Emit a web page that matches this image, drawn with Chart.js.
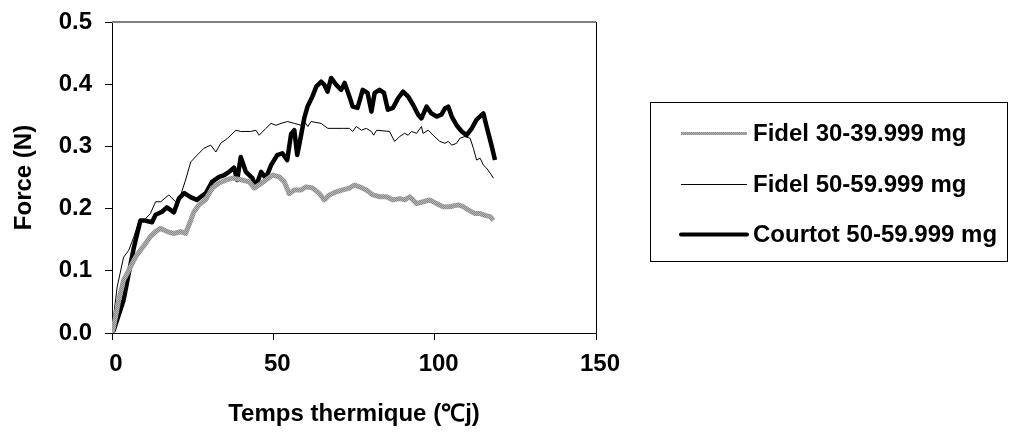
<!DOCTYPE html>
<html>
<head>
<meta charset="utf-8">
<script src="https://cdn.jsdelivr.net/npm/chart.js@4.4.1/dist/chart.umd.min.js"></script>
<style>
  body { margin: 0; background: #fff; }
  canvas { display: block; }
</style>
</head>
<body>
<canvas id="forceChart" width="1026" height="434"></canvas>
<script>
// Series: [thermal time, force]
const fidel30 = [[0,0],[0.5,0.01],[2.1,0.053],[3.6,0.085],[5.7,0.106],[7.3,0.122],[8.8,0.133],[10.4,0.144],[11.9,0.155],[13.5,0.163],[15.1,0.168],[17.1,0.163],[19.2,0.16],[21.3,0.163],[22.8,0.16],[24.4,0.181],[25.4,0.195],[27,0.206],[29.1,0.215],[31.1,0.233],[33.2,0.241],[35.3,0.246],[37.3,0.249],[40.4,0.246],[42.5,0.243],[44.1,0.233],[45.6,0.238],[47.7,0.246],[49.8,0.254],[51.8,0.251],[53.4,0.243],[54.9,0.224],[56.5,0.23],[58.6,0.23],[60.2,0.235],[62.2,0.233],[64.3,0.224],[65.8,0.214],[67.4,0.222],[69.5,0.227],[71.5,0.23],[73.6,0.233],[75.2,0.238],[76.7,0.235],[78.8,0.23],[80.9,0.222],[83,0.219],[85,0.219],[87.1,0.214],[89.2,0.216],[90.7,0.214],[92.3,0.219],[94.4,0.208],[96.4,0.211],[98.5,0.214],[100.6,0.208],[102.6,0.203],[104.7,0.203],[107.3,0.206],[108.9,0.203],[110.4,0.198],[112.5,0.192],[114.1,0.192],[115.6,0.189],[117.2,0.187],[118.2,0.181]];

const fidel50 = [[0,0.005],[1.6,0.074],[3.6,0.122],[5.2,0.133],[6.8,0.155],[8.3,0.179],[9.9,0.181],[11.9,0.192],[13.5,0.211],[15.1,0.211],[17.6,0.222],[19.7,0.211],[21.3,0.222],[22.8,0.246],[24.4,0.275],[26.4,0.286],[28.5,0.297],[30.6,0.302],[32.2,0.291],[33.7,0.305],[35.8,0.313],[38.4,0.326],[39.9,0.324],[43,0.324],[44.6,0.326],[45.6,0.318],[47.7,0.329],[49.3,0.337],[50.8,0.334],[52.4,0.337],[54.4,0.34],[56.5,0.337],[58.6,0.334],[59.6,0.34],[60.7,0.332],[61.7,0.34],[64.8,0.337],[66.9,0.329],[71.5,0.329],[73.6,0.329],[74.6,0.324],[75.7,0.332],[77.3,0.326],[78.8,0.329],[80.4,0.324],[81.1,0.318],[82,0.326],[84,0.325],[86,0.324],[87.6,0.308],[89.2,0.316],[90.7,0.321],[91.8,0.318],[92.8,0.324],[94.4,0.321],[95.9,0.332],[96.4,0.321],[98,0.326],[99.5,0.318],[101.6,0.308],[103.2,0.305],[104.2,0.308],[105.3,0.302],[106.8,0.305],[107.8,0.313],[109.4,0.316],[111,0.313],[112,0.297],[113,0.278],[114.1,0.281],[115.1,0.27],[116.1,0.265],[117.2,0.257],[118.2,0.249]];

const courtot50 = [[0,0],[0.5,0.004],[3.6,0.053],[5.2,0.096],[6.8,0.138],[8.8,0.181],[9.9,0.181],[12.4,0.178],[13.5,0.19],[15.5,0.195],[17,0.202],[19.2,0.194],[20.8,0.217],[22.4,0.225],[24.5,0.218],[26.3,0.214],[27.5,0.219],[29.1,0.225],[31,0.243],[33.2,0.251],[34.8,0.254],[36.3,0.259],[37.8,0.266],[38.8,0.246],[39.9,0.283],[41.5,0.259],[43.5,0.249],[44.6,0.235],[46.2,0.259],[47.7,0.249],[49.3,0.27],[51.2,0.286],[52.8,0.289],[54.3,0.278],[55.5,0.32],[56.5,0.326],[57.4,0.286],[58.6,0.318],[59.6,0.346],[60.6,0.364],[62.1,0.38],[63.3,0.396],[64.8,0.404],[65.8,0.399],[66.8,0.388],[67.9,0.41],[69.5,0.399],[71,0.391],[72.1,0.402],[73.6,0.38],[74.6,0.364],[76.1,0.362],[77.7,0.391],[79.2,0.386],[80.4,0.356],[81.4,0.386],[82.9,0.391],[84.3,0.386],[85.5,0.359],[87.1,0.362],[88.6,0.377],[90.2,0.388],[91.8,0.38],[93.3,0.367],[94.9,0.351],[95.9,0.345],[97.5,0.364],[99,0.353],[100.6,0.348],[102.1,0.351],[103.2,0.361],[104.2,0.364],[105.3,0.348],[106.8,0.334],[108.4,0.324],[109.9,0.318],[111.5,0.329],[113,0.343],[115.1,0.353],[116.1,0.332],[117.7,0.3],[118.7,0.278]];

const seriesLabels = ['Fidel 30-39.999 mg', 'Fidel 50-59.999 mg', 'Courtot 50-59.999 mg'];
const xTicks = [0, 50, 100, 150];
const yTicks = [0, 0.1, 0.2, 0.3, 0.4, 0.5];

const FONT = 'bold 24px "Liberation Sans", Arial, sans-serif';

// speckled grey texture for the first series
function greyPattern() {
    const c = document.createElement('canvas');
    c.width = 2; c.height = 2;
    const g = c.getContext('2d');
    g.fillStyle = '#8a8a8a'; g.fillRect(0, 0, 2, 2);
    g.fillStyle = '#b4b4b4'; g.fillRect(0, 0, 1, 1); g.fillRect(1, 1, 1, 1);
    return g.createPattern(c, 'repeat');
}
const grey = greyPattern();

function toPoints(arr) {
    return arr.map(p => ({ x: p[0], y: p[1] }));
}

// plot area border (top and right sides)
const frame = {
    id: 'frame',
    beforeDatasetsDraw(chart) {
        const { ctx, chartArea: a } = chart;
        ctx.save();
        ctx.strokeStyle = '#7f7f7f';
        ctx.lineWidth = 2;
        ctx.beginPath();
        ctx.moveTo(a.left, a.top);
        ctx.lineTo(a.right, a.top);
        ctx.stroke();
        ctx.strokeStyle = '#000';
        ctx.lineWidth = 1;
        ctx.beginPath();
        ctx.moveTo(a.right + 0.5, a.top);
        ctx.lineTo(a.right + 0.5, a.bottom);
        ctx.stroke();
        ctx.restore();
    }
};

// boxed legend on the right
const boxLegend = {
    id: 'boxLegend',
    afterDraw(chart) {
        const ctx = chart.ctx;
        ctx.save();
        ctx.strokeStyle = '#000';
        ctx.lineWidth = 1;
        ctx.strokeRect(650.5, 102.5, 357, 159);
        const rows = [133, 184, 234];
        chart.data.datasets.forEach((ds, i) => {
            const y = rows[i];
            ctx.strokeStyle = ds.borderColor;
            ctx.lineWidth = i === 0 ? 3 : (i === 1 ? 1 : 4);
            ctx.lineCap = i === 2 ? 'round' : 'butt';
            ctx.beginPath();
            ctx.moveTo(681, y + 0.5);
            ctx.lineTo(747, y + 0.5);
            ctx.stroke();
            ctx.fillStyle = '#000';
            ctx.font = FONT;
            ctx.textBaseline = 'middle';
            ctx.textAlign = 'left';
            ctx.fillText(ds.label, 753, y + 1);
        });
        ctx.restore();
    }
};

new Chart(document.getElementById('forceChart'), {
    type: 'line',
    data: {
        datasets: [{
            label: seriesLabels[0],
            data: toPoints(fidel30),
            borderColor: grey,
            borderWidth: 5
        }, {
            label: seriesLabels[1],
            data: toPoints(fidel50),
            borderColor: '#000',
            borderWidth: 1
        }, {
            label: seriesLabels[2],
            data: toPoints(courtot50),
            borderColor: '#000',
            borderWidth: 4.5
        }]
    },
    options: {
        responsive: false,
        animation: false,
        devicePixelRatio: 1,
        layout: { padding: { top: 22, left: 0, right: 430, bottom: 0 } },
        elements: {
            point: { radius: 0 },
            line: { tension: 0, fill: false, borderJoinStyle: 'round' }
        },
        plugins: {
            legend: { display: false },
            tooltip: { enabled: false }
        },
        scales: {
            x: {
                type: 'linear',
                min: 0,
                max: 150,
                afterBuildTicks: s => { s.ticks = xTicks.map(v => ({ value: v })); },
                afterFit: s => { s.height = 101; s.paddingLeft = 0; s.paddingRight = 0; },
                ticks: {
                    color: '#000',
                    font: { family: '"Liberation Sans", Arial', size: 24, weight: 'bold' },
                    padding: 10,
                    labelOffset: 4,
                    maxRotation: 0,
                    callback: v => String(v)
                },
                grid: { drawOnChartArea: false, drawTicks: true, tickLength: 7, color: '#000' },
                border: { display: true, color: '#000', width: 1 },
                title: {
                    display: true,
                    text: 'Temps thermique (℃j)',
                    color: '#000',
                    font: { family: '"Liberation Sans", Arial', size: 24, weight: 'bold' },
                    padding: { top: 0, bottom: 5 }
                }
            },
            y: {
                min: 0,
                max: 0.5,
                afterBuildTicks: s => { s.ticks = yTicks.map(v => ({ value: v })); },
                afterFit: s => { s.width = 112; s.paddingTop = 0; s.paddingBottom = 0; },
                ticks: {
                    color: '#000',
                    font: { family: '"Liberation Sans", Arial', size: 24, weight: 'bold' },
                    padding: 13,
                    callback: v => v.toFixed(1)
                },
                grid: { drawOnChartArea: false, drawTicks: true, tickLength: 7, color: '#000' },
                border: { display: true, color: '#000', width: 1 },
                title: {
                    display: true,
                    text: 'Force (N)',
                    color: '#000',
                    font: { family: '"Liberation Sans", Arial', size: 24, weight: 'bold' },
                    padding: { top: 10, bottom: 0 }
                }
            }
        }
    },
    plugins: [frame, boxLegend]
});
</script>
</body>
</html>
